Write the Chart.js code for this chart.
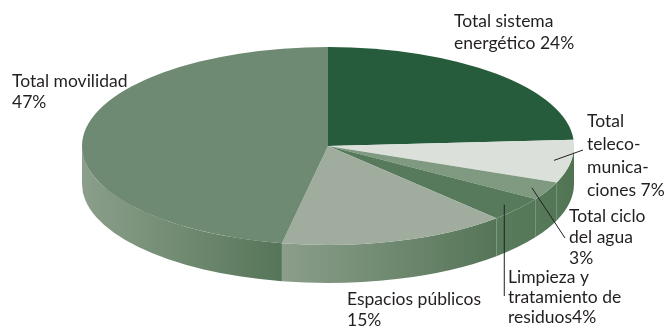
<!DOCTYPE html>
<html>
<head>
<meta charset="utf-8">
<title>Consumo por sector</title>
<script src="https://cdn.jsdelivr.net/npm/chart.js@4.4.0/dist/chart.umd.min.js"></script>
<style>
  html, body { margin: 0; padding: 0; background: #fff; }
  .chart-wrapper { position: relative; width: 664px; height: 328px; }
</style>
</head>
<body>
<div class="chart-wrapper">
  <canvas id="myChart" width="664" height="328"></canvas>
</div>
<script>
  // data
  const categories = ["Total sistema energético", "Total telecomunicaciones", "Total ciclo del agua",
                      "Limpieza y tratamiento de residuos", "Espacios públicos", "Total movilidad"];
  const values = [24, 7, 3, 4, 15, 47];
  // label text as printed on the chart (line breaks kept)
  const labelLines = [
    ["Total sistema", "energético 24%"],
    ["Total", "teleco-", "munica-", "ciones 7%"],
    ["Total ciclo", "del agua", "3%"],
    ["Limpieza y", "tratamiento de", "residuos4%"],
    ["Espacios públicos", "15%"],
    ["Total movilidad", "47%"]
  ];

  // styles
  const topColors  = ["#265b3b", "#dbe1da", "#7f9a80", "#577a5c", "#9fac9e", "#6e8a72"];
  const sideLight  = ["#2f6444", "#557858", "#567a5a", "#587b5b", "#8b9e8a", "#8b9f8a"];
  const sideDark   = ["#234f35", "#507352", "#537656", "#557858", "#557558", "#567559"];

  // ellipse geometry of the tilted pie
  const CX = 328, CY = 146, RX = 246, RY = 99, DEPTH = 38;

  // where each label sits, and whether it has a leader line
  const labelPos = [
    { x: 454, y: 27,  lh: 22 },
    { x: 587, y: 127, lh: 23, line: { r: 0.93, to: [583, 150] } },
    { x: 569, y: 222, lh: 21, line: { r: 0.93, to: [565, 238] } },
    { x: 508, y: 283, lh: 20, line: { r: 0.93, vertical: 296 } },
    { x: 347, y: 305, lh: 21 },
    { x: 12,  y: 87,  lh: 21 }
  ];

  function ept(t, r) {
    return [CX + RX * r * Math.cos(t), CY + RY * r * Math.sin(t)];
  }

  const pie3d = {
    id: 'pie3d',
    beforeDatasetsDraw(chart) {
      const ctx = chart.ctx;
      const arcs = chart.getDatasetMeta(0).data;
      // side walls, front half only (canvas angles 0..PI)
      arcs.forEach((arc, i) => {
        const s = Math.max(arc.startAngle, 0);
        const e = Math.min(arc.endAngle, Math.PI);
        if (e <= s) return;
        const xl = CX + RX * Math.cos(e), xr = CX + RX * Math.cos(s);
        const g = ctx.createLinearGradient(xl, 0, xr, 0);
        g.addColorStop(0, sideLight[i]);
        g.addColorStop(1, sideDark[i]);
        ctx.beginPath();
        ctx.ellipse(CX, CY, RX, RY, 0, s, e);
        ctx.ellipse(CX, CY + DEPTH, RX, RY, 0, e, s, true);
        ctx.closePath();
        ctx.fillStyle = g;
        ctx.fill();
      });
      // squash the flat pie into the ellipse
      const a0 = arcs[0];
      const r = a0.outerRadius;
      ctx.save();
      ctx.translate(CX, CY);
      ctx.scale(RX / r, RY / r);
      ctx.translate(-a0.x, -a0.y);
    },
    afterDatasetsDraw(chart) {
      const ctx = chart.ctx;
      ctx.restore();
      const arcs = chart.getDatasetMeta(0).data;
      ctx.save();
      ctx.fillStyle = "#231f20";
      ctx.strokeStyle = "#231f20";
      ctx.lineWidth = 1;
      ctx.font = "17.5px Lato";
      ctx.textBaseline = "alphabetic";
      labelLines.forEach((lines, i) => {
        const p = labelPos[i];
        lines.forEach((txt, k) => ctx.fillText(txt, p.x, p.y + k * p.lh));
        if (p.line) {
          const arc = arcs[i];
          const mid = (arc.startAngle + arc.endAngle) / 2;
          const a = ept(mid, p.line.r);
          const b = p.line.vertical ? [a[0], p.line.vertical] : p.line.to;
          ctx.beginPath();
          ctx.moveTo(a[0], a[1]);
          ctx.lineTo(b[0], b[1]);
          ctx.stroke();
        }
      });
      ctx.restore();
    }
  };

  const ctx = document.getElementById("myChart");
  const myChart = new Chart(ctx, {
    type: "pie",
    data: {
      labels: categories,
      datasets: [{
        data: values,
        backgroundColor: topColors,
        borderWidth: 0
      }]
    },
    options: {
      responsive: false,
      animation: false,
      layout: { padding: 0 },
      plugins: {
        legend: { display: false },
        tooltip: { enabled: false }
      }
    },
    plugins: [pie3d]
  });
</script>
</body>
</html>
